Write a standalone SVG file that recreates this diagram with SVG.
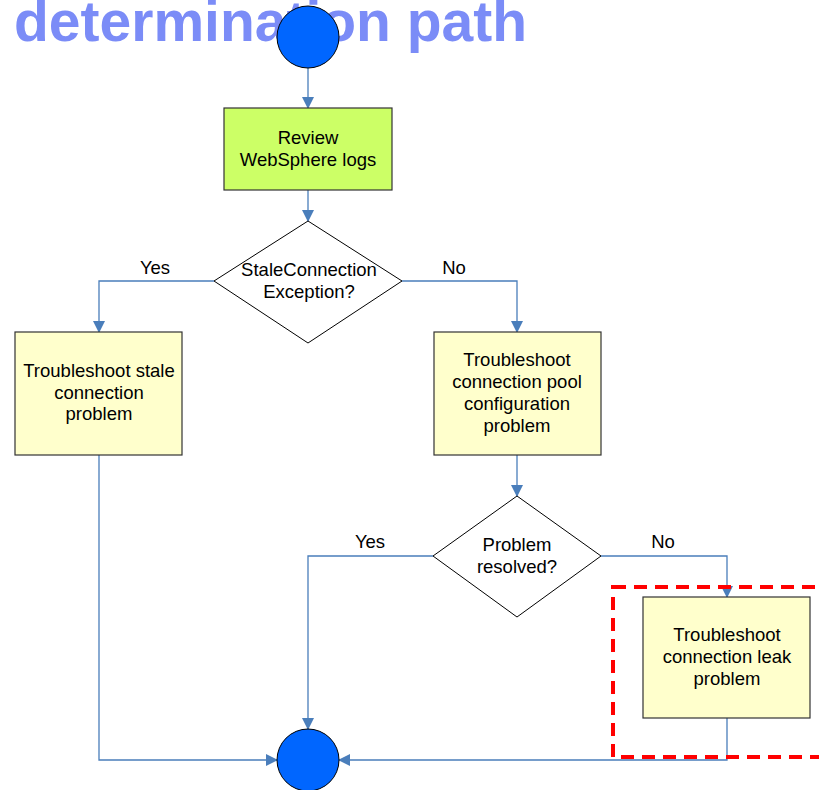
<svg xmlns="http://www.w3.org/2000/svg" width="819" height="790" viewBox="0 0 819 790">
<defs>
<marker id="arr" markerWidth="12" markerHeight="12" refX="11" refY="6" orient="auto" markerUnits="userSpaceOnUse">
<path d="M0,0 L12,6 L0,12 Z" fill="#4a7ebb"/>
</marker>
</defs>
<style>
.t{font-family:"Liberation Sans",Arial,sans-serif;font-size:18.5px;fill:#000;text-anchor:middle}
.c{fill:none;stroke:#4a7ebb;stroke-width:1.3}
.box{stroke:#333;stroke-width:1.2}
.y{fill:#ffffcc}
.dm{fill:#fff;stroke:#000;stroke-width:1}
.circ{fill:#0066ff;stroke:#000;stroke-width:1}
</style>
<rect width="819" height="790" fill="#fff"/>
<text x="14" y="41" style="font-family:'Liberation Sans',Arial,sans-serif;font-weight:bold;font-size:57px;fill:#7b8cf7">determination path</text>
<g id="connectors">
<path class="c" d="M308,68 V108" marker-end="url(#arr)"/>
<path class="c" d="M308,190 V221" marker-end="url(#arr)"/>
<path class="c" d="M214,281 H99 V332" marker-end="url(#arr)"/>
<path class="c" d="M402,281 H517 V332" marker-end="url(#arr)"/>
<path class="c" d="M517,455 V496" marker-end="url(#arr)"/>
<path class="c" d="M433,556 H308 V729" marker-end="url(#arr)"/>
<path class="c" d="M601,556 H727 V597" marker-end="url(#arr)"/>
<path class="c" d="M99,455 V760 H277" marker-end="url(#arr)"/>
<path class="c" d="M727,718 V760 H339" marker-end="url(#arr)"/>
<text class="t" x="155" y="274">Yes</text>
<text class="t" x="454" y="274">No</text>
<text class="t" x="370" y="548">Yes</text>
<text class="t" x="663" y="548">No</text>
</g>
<g id="start"><circle class="circ" cx="308" cy="37" r="31"/></g>
<g id="review">
<rect class="box" x="224" y="108" width="168" height="82" fill="#ccff66"/>
<text class="t" x="308" y="144">Review</text>
<text class="t" x="308" y="166">WebSphere logs</text>
</g>
<g id="decision1">
<polygon class="dm" points="308,221 402,281 308,343 214,281"/>
<text class="t" x="309" y="276">StaleConnection</text>
<text class="t" x="309" y="298">Exception?</text>
</g>
<g id="stale">
<rect class="box y" x="15" y="332" width="167" height="123"/>
<text class="t" x="99" y="377">Troubleshoot stale</text>
<text class="t" x="99" y="399">connection</text>
<text class="t" x="99" y="420">problem</text>
</g>
<g id="pool">
<rect class="box y" x="434" y="332" width="167" height="123"/>
<text class="t" x="517" y="366">Troubleshoot</text>
<text class="t" x="517" y="388">connection pool</text>
<text class="t" x="517" y="410">configuration</text>
<text class="t" x="517" y="432">problem</text>
</g>
<g id="decision2">
<polygon class="dm" points="517,496 601,556 517,617 433,556"/>
<text class="t" x="517" y="551">Problem</text>
<text class="t" x="517" y="573">resolved?</text>
</g>
<g id="leak">
<rect class="box y" x="643" y="597" width="167" height="121"/>
<text class="t" x="727" y="641">Troubleshoot</text>
<text class="t" x="727" y="663">connection leak</text>
<text class="t" x="727" y="685">problem</text>
</g>
<g id="end"><circle class="circ" cx="308" cy="760" r="31"/></g>
<g id="highlight">
<rect x="613" y="587" width="230" height="170" fill="none" stroke="#ff0000" stroke-width="4" stroke-dasharray="13 8"/>
</g>
</svg>
